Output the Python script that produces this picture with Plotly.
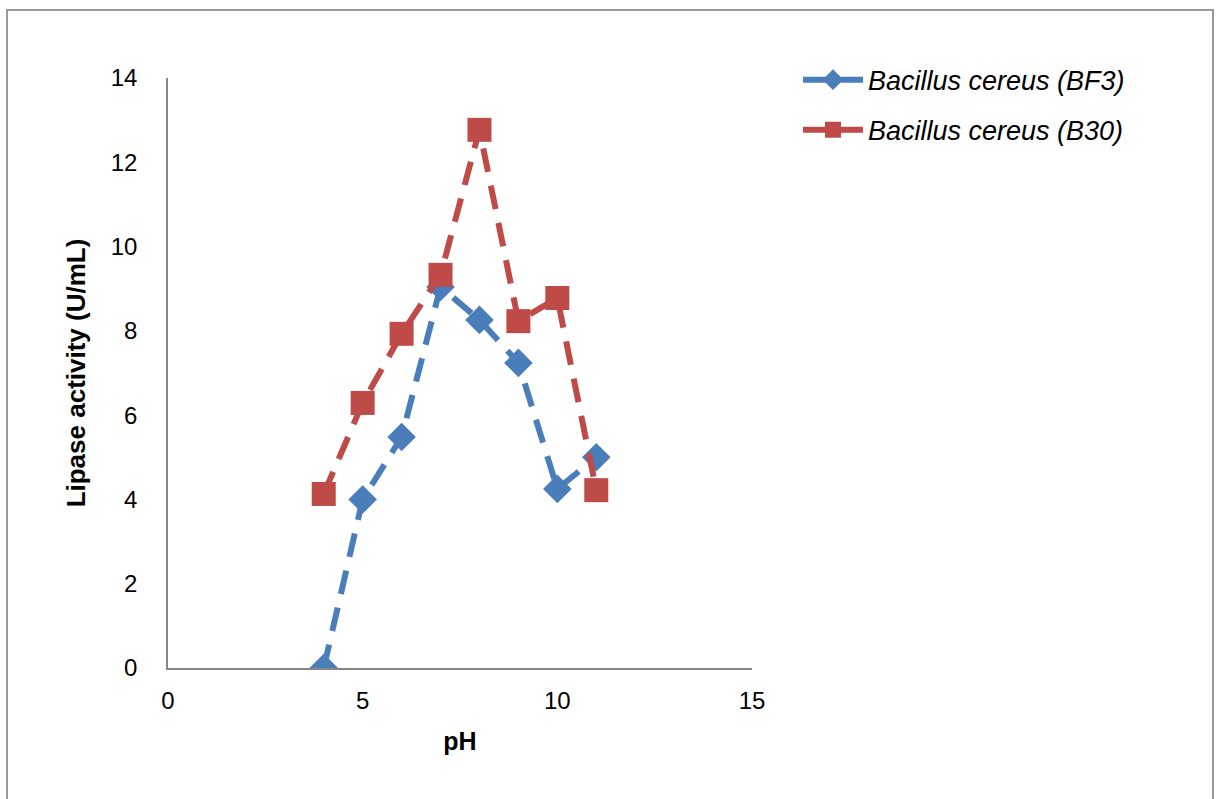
import plotly.graph_objects as go

ph = [4, 5, 6, 7, 8, 9, 10, 11]
bf3 = [0.0, 4.0, 5.48, 9.04, 8.26, 7.24, 4.25, 5.0]
b30 = [4.13, 6.29, 7.93, 9.33, 12.77, 8.23, 8.78, 4.22]

fig = go.Figure()
fig.add_trace(go.Scatter(
    x=ph, y=bf3, mode="lines+markers", name="<i>Bacillus cereus (BF3)</i>",
    legendgroup="a",
    line=dict(color="#4a7ebb", width=6, dash="24px,14px"),
    marker=dict(symbol="diamond", size=22, color="#4a7ebb"),
))
fig.add_trace(go.Scatter(
    x=ph, y=b30, mode="lines+markers", name="<i>Bacillus cereus (B30)</i>",
    legendgroup="b",
    line=dict(color="#be4b48", width=6, dash="24px,14px"),
    marker=dict(symbol="square", size=24, color="#be4b48"),
))

fig.update_layout(
    width=1216, height=799,
    margin=dict(l=168, r=464, t=78, b=131),
    paper_bgcolor="white", plot_bgcolor="white",
    font=dict(family="Liberation Sans, Arial", size=22, color="black"),
    showlegend=True,
    legend=dict(x=(798 - 168) / 584, y=1.038, xanchor="left", yanchor="top",
                font=dict(size=27), itemwidth=60, tracegroupgap=12),
    xaxis=dict(range=[0, 15], tickvals=[0, 5, 10, 15], showgrid=False, zeroline=False,
               showline=True, linecolor="#868686", linewidth=1.5, ticks="",
               tickfont=dict(size=24), ticklabelstandoff=10,
               title=dict(text="<b>pH</b>", font=dict(size=25), standoff=20)),
    yaxis=dict(range=[0, 14], tickvals=[0, 2, 4, 6, 8, 10, 12, 14], showgrid=False, zeroline=False,
               showline=True, linecolor="#868686", linewidth=1.5, ticks="",
               tickfont=dict(size=24), ticklabelstandoff=24,
               title=dict(text="<b>Lipase activity (U/mL)</b>", font=dict(size=26), standoff=18)),
    shapes=[dict(type="rect", xref="paper", yref="paper",
                 x0=(7 - 168) / 584, x1=(1213 - 168) / 584,
                 y0=-0.3, y1=1 + (78 - 10) / 590,
                 line=dict(color="#9a9a9a", width=2), fillcolor="rgba(0,0,0,0)", layer="below")],
)

fig.write_html("out.html")
